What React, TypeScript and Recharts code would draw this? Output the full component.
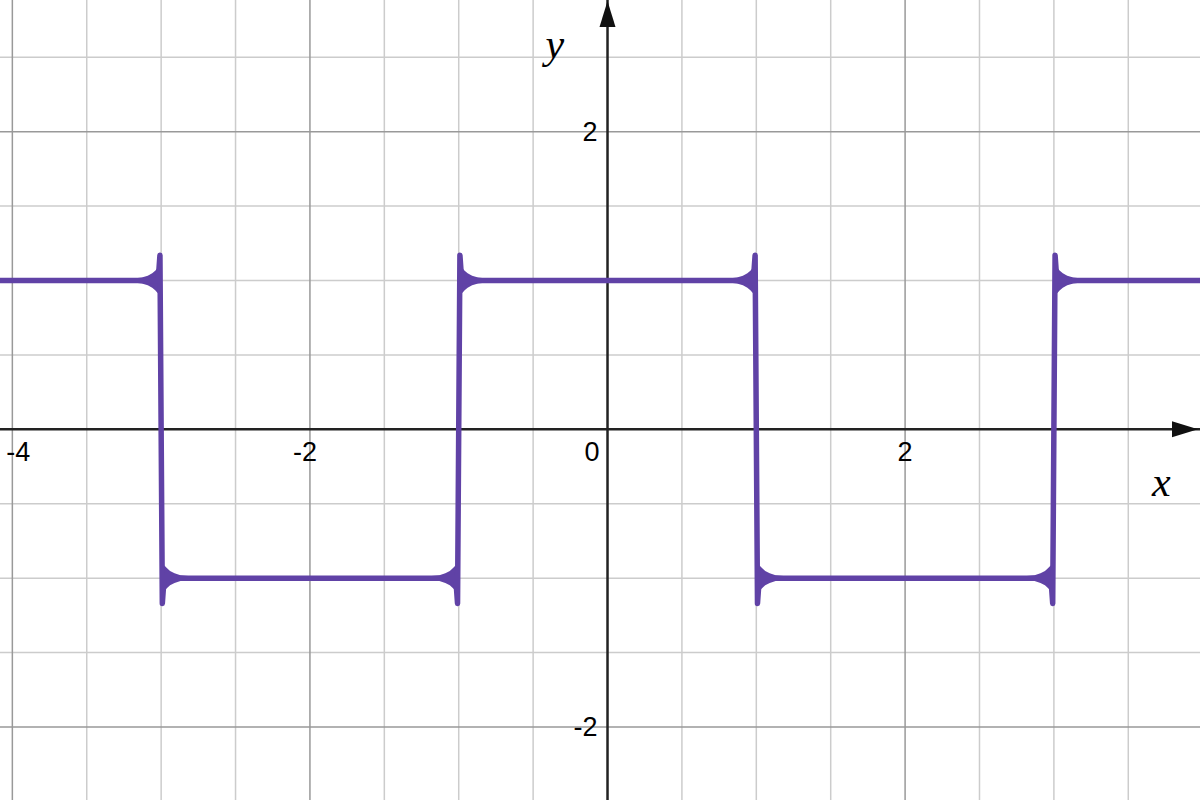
import { ComposedChart, Line, Area, XAxis, YAxis, ReferenceLine, ReferenceDot } from "recharts";

// visible window of the graph
const xDomain = [-4.083, 3.982];
const yDomain = [-2.491, 2.885];

// grid lines
const xMinor = [-3.5, -3, -2.5, -1.5, -1, -0.5, 0.5, 1, 1.5, 2.5, 3, 3.5];
const xMajor = [-4, -2, 2];
const yMinor = [2.5, 1.5, 1, 0.5, -0.5, -1, -1.5, -2.5];
const yMajor = [2, -2];

// tick labels
const xLabels = [-4, -2, 0, 2];
const yLabels = [2, -2];

// square wave (with the overshoot spikes at each jump)
const curveX = [-4.083, -3.02, -3.008, -2.992, -2.98, -1.02, -1.008, -0.992, -0.98, 0.98, 0.992, 1.008, 1.02, 2.98, 2.992, 3.008, 3.02, 3.982];
const curveY = [1, 1, 1.17, -1.17, -1, -1, -1.17, 1.17, 1, 1, 1.17, -1.17, -1, -1, -1.17, 1.17, 1, 1];

// jumps: position, level on the left, level on the right
const jumpX = [-3, -1, 1, 3];
const jumpFrom = [1, -1, 1, -1];
const jumpTo = [-1, 1, -1, 1];

// ringing band next to each jump: distance from the jump vs half-width
const flareDist = [0.5, 0.32, 0.2, 0.13, 0.09, 0.06, 0.04, 0.025, 0.012];
const flareHalf = [0, 0.006, 0.012, 0.02, 0.032, 0.048, 0.066, 0.082, 0.092];

const PURPLE = "#6042a6";
const curve = curveX.map((x, i) => ({ x, y: curveY[i] }));

const flares: { x: number; r: [number, number] }[][] = [];
jumpX.forEach((t, j) => {
  const left = flareDist.map((d, i) => ({ x: t - d, r: [jumpFrom[j] - flareHalf[i], jumpFrom[j] + flareHalf[i]] as [number, number] }));
  const right = flareDist
    .map((d, i) => ({ x: t + d, r: [jumpTo[j] - flareHalf[i], jumpTo[j] + flareHalf[i]] as [number, number] }))
    .reverse();
  flares.push(left, right);
});

const tickFont = { fontFamily: "'Liberation Sans', Arial, sans-serif", fontSize: 27, fill: "#000" };
const varFont = { fontFamily: "'Liberation Serif', 'Times New Roman', serif", fontStyle: "italic", fontSize: 42, fill: "#000" };

export default function App() {
  return (
    <div style={{ position: "fixed", left: 0, top: 0, background: "#fff" }}>
      <ComposedChart width={1200} height={800} margin={{ top: 0, right: 0, bottom: 0, left: 0 }}>
        <XAxis type="number" dataKey="x" domain={xDomain} allowDataOverflow hide />
        <YAxis type="number" domain={yDomain} allowDataOverflow hide />

        {xMinor.map((v) => (
          <ReferenceLine key={"xm" + v} x={v} stroke="#cccccc" strokeWidth={1.5} />
        ))}
        {yMinor.map((v) => (
          <ReferenceLine key={"ym" + v} y={v} stroke="#cccccc" strokeWidth={1.5} />
        ))}
        {xMajor.map((v) => (
          <ReferenceLine key={"xM" + v} x={v} stroke="#999999" strokeWidth={1.5} />
        ))}
        {yMajor.map((v) => (
          <ReferenceLine key={"yM" + v} y={v} stroke="#999999" strokeWidth={1.5} />
        ))}

        <ReferenceLine x={0} stroke="#222" strokeWidth={2.5} />
        <ReferenceLine y={0} stroke="#222" strokeWidth={2.5} />

        {/* axis arrows */}
        <ReferenceDot
          x={0}
          y={yDomain[1]}
          ifOverflow="visible"
          shape={(p: any) => (
            <path d={`M${p.cx},${p.cy + 1} L${p.cx + 8},${p.cy + 27} L${p.cx - 8},${p.cy + 27} Z`} fill="#111" />
          )}
        />
        <ReferenceDot
          x={xDomain[1]}
          y={0}
          ifOverflow="visible"
          shape={(p: any) => (
            <path d={`M${p.cx - 2},${p.cy} L${p.cx - 28},${p.cy - 8} L${p.cx - 28},${p.cy + 8} Z`} fill="#111" />
          )}
        />

        {xLabels.map((v) => (
          <ReferenceDot
            key={"xl" + v}
            x={v}
            y={0}
            ifOverflow="visible"
            shape={(p: any) => {
              let tx = p.cx;
              let anchor: "middle" | "end" = "middle";
              if (v === 0) { tx = p.cx - 8; anchor = "end"; }
              else if (v === xLabels[0]) tx = p.cx + 6;
              else if (v < 0) tx = p.cx - 5;
              return (
                <text x={tx} y={p.cy + 32} textAnchor={anchor} {...tickFont}>
                  {v < 0 ? "-" + Math.abs(v) : v}
                </text>
              );
            }}
          />
        ))}
        {yLabels.map((v) => (
          <ReferenceDot
            key={"yl" + v}
            x={0}
            y={v}
            ifOverflow="visible"
            shape={(p: any) => (
              <text x={p.cx - 10} y={p.cy + 9} textAnchor="end" {...tickFont}>
                {v < 0 ? "-" + Math.abs(v) : v}
              </text>
            )}
          />
        ))}

        <ReferenceDot
          x={0}
          y={yDomain[1]}
          ifOverflow="visible"
          shape={(p: any) => (
            <text x={p.cx - 62} y={p.cy + 58} {...varFont}>y</text>
          )}
        />
        <ReferenceDot
          x={xDomain[1]}
          y={0}
          ifOverflow="visible"
          shape={(p: any) => (
            <text x={p.cx - 48} y={p.cy + 67} {...varFont}>x</text>
          )}
        />

        {flares.map((f, i) => (
          <Area
            key={"f" + i}
            data={f}
            dataKey="r"
            type="linear"
            stroke="none"
            fill={PURPLE}
            fillOpacity={1}
            isAnimationActive={false}
            dot={false}
            activeDot={false}
          />
        ))}
        <Line
          data={curve}
          dataKey="y"
          type="linear"
          stroke={PURPLE}
          strokeWidth={5.5}
          strokeLinecap="round"
          strokeLinejoin="round"
          dot={false}
          activeDot={false}
          isAnimationActive={false}
        />
      </ComposedChart>
    </div>
  );
}
